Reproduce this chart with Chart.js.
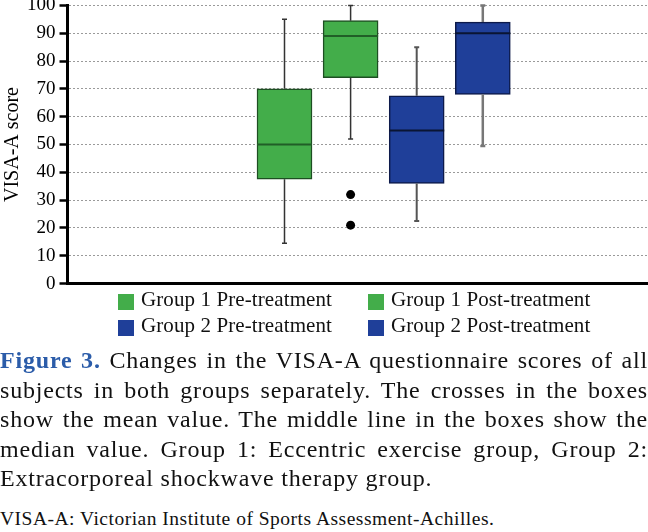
<!DOCTYPE html>
<html>
<head>
<meta charset="utf-8">
<script src="https://cdn.jsdelivr.net/npm/chart.js@4.4.1/dist/chart.umd.min.js"></script>
<style>
  html, body { margin: 0; background: #fff; width: 648px; height: 532px; overflow: hidden; font-family: "Liberation Serif", serif; color: #111; }
  #plot { position: absolute; left: 0; top: -10px; }
  #legend { position: absolute; left: 0; top: 289px; width: 648px; height: 50px; }
  .item { position: absolute; font-size: 21px; line-height: 21px; letter-spacing: 0.1px; white-space: nowrap; }
  .item span.sw { display: inline-block; width: 16px; height: 16px; margin-right: 7px; vertical-align: -4px; }
  #caption { position: absolute; left: 0; top: 346px; width: 648px; font-size: 24px; line-height: 29.5px; letter-spacing: 0.8px; }
  #caption div { text-align: justify; text-align-last: justify; white-space: nowrap; }
  #caption div.last { text-align-last: left; }
  #caption b { color: #2b5ca9; }
  #note { position: absolute; left: 0; top: 509px; font-size: 19.5px; line-height: 20px; letter-spacing: 0.5px; white-space: nowrap; }
</style>
</head>
<body>
<canvas id="plot" width="654" height="309"></canvas>
<div id="legend"></div>
<div id="caption">
  <div><b>Figure 3.</b> Changes in the VISA-A questionnaire scores of all</div>
  <div>subjects in both groups separately. The crosses in the boxes</div>
  <div>show the mean value. The middle line in the boxes show the</div>
  <div>median value. Group 1: Eccentric exercise group, Group 2:</div>
  <div class="last">Extracorporeal shockwave therapy group.</div>
</div>
<div id="note">VISA-A: Victorian Institute of Sports Assessment-Achilles.</div>
<script>
// data
const categories = ['Group 1 Pre-treatment', 'Group 1 Post-treatment', 'Group 2 Pre-treatment', 'Group 2 Post-treatment'];
const positions = [1, 2, 3, 4];
const whiskerLow = [14.5, 52, 22.5, 49.5];
const q1 = [37.5, 74, 36, 68];
const median = [50, 89, 55, 90];
const q3 = [70, 94.5, 67.5, 94];
const whiskerHigh = [95, 100, 85, 100];
const outlierPos = [2, 2];
const outlierValues = [32, 21];

const fills = ['#43ad4a', '#43ad4a', '#1f3f99', '#1f3f99'];
const edges = ['#1d4f22', '#1d4f22', '#0d1a4a', '#0d1a4a'];
const medianColors = ['#215e27', '#215e27', '#0a1533', '#0a1533'];
const whiskerColors = ['#333', '#333', '#555', '#777'];
const whiskerWidths = [1.5, 1.5, 2, 2.5];

// whiskers, caps and medians drawn on the library's scales
const boxExtras = {
  id: 'boxExtras',
  afterDatasetsDraw(chart) {
    const {ctx, scales: {x, y}} = chart;
    const bars = chart.getDatasetMeta(0).data;
    ctx.save();
    positions.forEach((p, i) => {
      const px = x.getPixelForValue(p);
      ctx.strokeStyle = whiskerColors[i];
      ctx.lineWidth = whiskerWidths[i];
      ctx.beginPath();
      ctx.moveTo(px, y.getPixelForValue(q3[i]));
      ctx.lineTo(px, y.getPixelForValue(whiskerHigh[i]));
      ctx.moveTo(px, y.getPixelForValue(q1[i]));
      ctx.lineTo(px, y.getPixelForValue(whiskerLow[i]));
      ctx.moveTo(px - 2.5, y.getPixelForValue(whiskerHigh[i]));
      ctx.lineTo(px + 2.5, y.getPixelForValue(whiskerHigh[i]));
      ctx.moveTo(px - 2.5, y.getPixelForValue(whiskerLow[i]));
      ctx.lineTo(px + 2.5, y.getPixelForValue(whiskerLow[i]));
      ctx.stroke();
      const w = bars[i].width / 2;
      ctx.strokeStyle = medianColors[i];
      ctx.lineWidth = 2;
      ctx.beginPath();
      ctx.moveTo(px - w, y.getPixelForValue(median[i]));
      ctx.lineTo(px + w, y.getPixelForValue(median[i]));
      ctx.stroke();
    });
    ctx.restore();
  }
};

new Chart(document.getElementById('plot'), {
  type: 'bar',
  data: {
    datasets: [{
      label: 'IQR',
      data: positions.map((p, i) => ({x: p, y: [q1[i], q3[i]]})),
      backgroundColor: fills,
      borderColor: edges,
      borderWidth: 1.5,
      borderSkipped: false,
      barThickness: 55
    }, {
      type: 'scatter',
      label: 'Outliers',
      data: outlierPos.map((p, i) => ({x: p, y: outlierValues[i]})),
      pointRadius: 4.5,
      backgroundColor: '#000',
      borderWidth: 0
    }]
  },
  options: {
    responsive: false,
    animation: false,
    layout: { padding: { top: 0, left: 3, right: 0, bottom: 0 } },
    plugins: { legend: { display: false }, tooltip: { enabled: false } },
    scales: {
      x: {
        type: 'linear',
        offset: false,
        min: -2.283,
        max: 6.522,
        ticks: { display: false },
        grid: { display: false, offset: false },
        border: { color: '#000', width: 3 }
      },
      y: {
        min: 0,
        max: 100,
        ticks: { stepSize: 10, color: '#000', padding: 4, font: { family: 'Liberation Serif', size: 19 } },
        grid: { color: '#9a9a9a', lineWidth: 1, tickLength: 8, tickColor: '#000', tickWidth: 2.5 },
        border: { color: '#000', width: 3, dash: [2, 2] },
        title: { display: true, text: 'VISA-A score', color: '#000', padding: 0, font: { family: 'Liberation Serif', size: 20, lineHeight: 1 } }
      }
    }
  },
  plugins: [boxExtras]
});

// legend in two rows, two columns
const legend = document.getElementById('legend');
const legendLeft = [118, 368];
const legendTop = [0, 26];
categories.forEach((name, i) => {
  const el = document.createElement('div');
  el.className = 'item';
  el.style.left = legendLeft[i % 2] + 'px';
  el.style.top = legendTop[Math.floor(i / 2)] + 'px';
  const sw = document.createElement('span');
  sw.className = 'sw';
  sw.style.background = fills[i];
  el.appendChild(sw);
  el.appendChild(document.createTextNode(name));
  legend.appendChild(el);
});
</script>
</body>
</html>
